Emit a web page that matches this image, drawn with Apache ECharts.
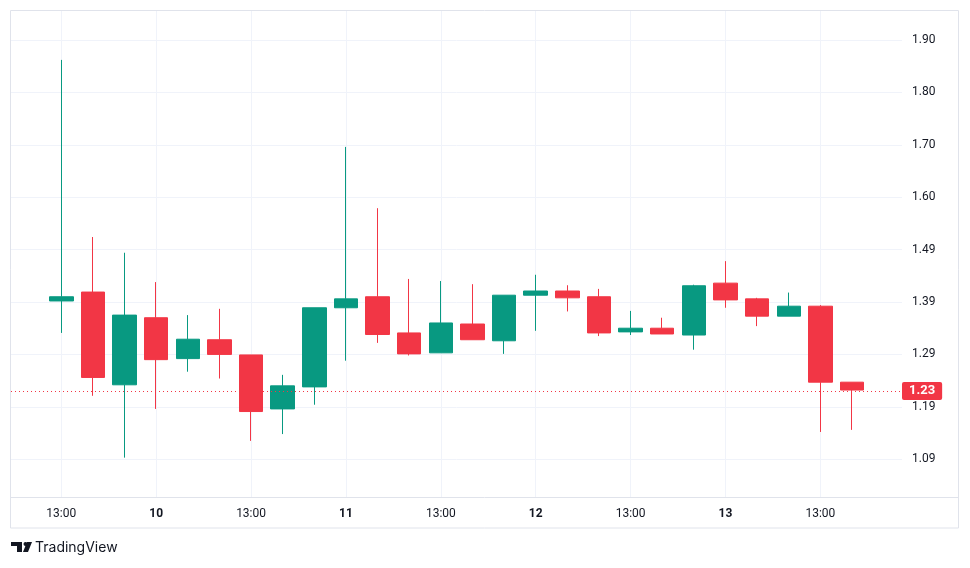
<!DOCTYPE html>
<html>
<head>
<meta charset="utf-8">
<title>Candles</title>
<script src="https://cdn.jsdelivr.net/npm/echarts@6/dist/echarts.min.js"></script>
<style>
  html, body { margin: 0; padding: 0; background: #ffffff; }
  #main { width: 970px; height: 568px; }
</style>
</head>
<body>
<div id="main"></div>
<script>
// candle values, one entry per bar
var opens  = [1.402, 1.419, 1.242, 1.370, 1.292, 1.328, 1.299, 1.196, 1.238, 1.389, 1.410, 1.341, 1.303,
              1.358, 1.326, 1.413, 1.421, 1.410, 1.343, 1.350, 1.337, 1.436, 1.406, 1.373, 1.392, 1.247];
var closes = [1.410, 1.256, 1.375, 1.290, 1.329, 1.300, 1.191, 1.240, 1.389, 1.406, 1.338, 1.301, 1.360,
              1.328, 1.413, 1.421, 1.408, 1.341, 1.350, 1.339, 1.431, 1.404, 1.373, 1.392, 1.247, 1.232];
var lows   = [1.341, 1.221, 1.103, 1.196, 1.267, 1.254, 1.135, 1.148, 1.204, 1.288, 1.322, 1.298, 1.303,
              1.328, 1.301, 1.345, 1.382, 1.335, 1.337, 1.339, 1.309, 1.389, 1.354, 1.373, 1.152, 1.156];
var highs  = [1.862, 1.524, 1.494, 1.438, 1.375, 1.387, 1.299, 1.261, 1.389, 1.696, 1.579, 1.444, 1.440,
              1.434, 1.413, 1.452, 1.432, 1.425, 1.383, 1.370, 1.433, 1.478, 1.408, 1.418, 1.394, 1.247];

// x tick labels, every 3rd candle (days are bold)
var xTickLabels = ['13:00', '10', '13:00', '11', '13:00', '12', '13:00', '13', '13:00'];
var xTickStep = 3;
// y tick labels for 1.1 .. 1.9
var yTickLabels = ['1.09', '1.19', '1.29', '1.39', '1.49', '1.60', '1.70', '1.80', '1.90'];

var UP = '#089981';
var DOWN = '#F23645';
var TEXT = '#131722';

var rows = [];
for (var i = 0; i < opens.length; i++) {
    rows.push([i, opens[i], closes[i], lows[i], highs[i]]);
}
var lastClose = closes[closes.length - 1];

var myChart = echarts.init(document.getElementById('main'));

var option = {
    animation: false,
    backgroundColor: '#ffffff',
    textStyle: { fontFamily: 'Roboto, "Noto Sans", sans-serif' },
    grid: { left: 11, top: 11, right: 68, bottom: 70, containLabel: false },
    xAxis: {
        type: 'value',
        min: -1.59,
        max: 26.58,
        splitNumber: 9,
        axisLine: { show: false },
        axisTick: { show: false },
        axisLabel: {
            showMinLabel: false,
            showMaxLabel: false,
            margin: 10,
            color: TEXT,
            fontSize: 12,
            formatter: function (v) {
                var k = v / xTickStep;
                if (Math.abs(k - Math.round(k)) > 1e-6) return '';
                var s = xTickLabels[Math.round(k)];
                if (s == null) return '';
                return s.indexOf(':') < 0 ? '{b|' + s + '}' : s;
            },
            rich: { b: { fontWeight: 'bold', fontSize: 12, color: TEXT } }
        },
        splitLine: { show: true, showMinLine: false, showMaxLine: false, lineStyle: { color: '#f0f3fa', width: 1 } }
    },
    yAxis: {
        type: 'value',
        position: 'right',
        min: 1.026,
        max: 1.9553,
        splitNumber: 9,
        axisLine: { show: false },
        axisTick: { show: false },
        axisLabel: {
            showMinLabel: false,
            showMaxLabel: false,
            margin: 10,
            color: TEXT,
            fontSize: 12,
            formatter: function (v) {
                var k = Math.round((v - 1.1) * 10);
                if (Math.abs(v - (1.1 + k * 0.1)) > 1e-6) return '';
                return yTickLabels[k] || '';
            }
        },
        splitLine: { show: true, showMinLine: false, showMaxLine: false, lineStyle: { color: '#f0f3fa', width: 1 } }
    },
    series: [{
        type: 'candlestick',
        data: rows,
        encode: { x: 0, y: [1, 2, 3, 4] },
        barWidth: 24,
        itemStyle: {
            color: UP,
            color0: DOWN,
            borderColor: UP,
            borderColor0: DOWN,
            borderWidth: 1
        },
        markLine: {
            silent: true,
            symbol: ['none', 'none'],
            data: [{ yAxis: lastClose }],
            lineStyle: { color: DOWN, type: [1, 3], width: 1 },
            label: {
                show: true,
                position: 'end',
                distance: 0,
                formatter: function (p) { return p.value.toFixed(2); },
                backgroundColor: DOWN,
                color: '#ffffff',
                fontWeight: 'bold',
                fontSize: 13,
                lineHeight: 13,
                padding: [3, 7, 2, 7],
                borderRadius: 2
            }
        }
    }],
    graphic: [
        // outer frame and axis separator
        { type: 'rect', silent: true, z: 1, shape: { x: 10.5, y: 10.5, width: 948, height: 517.5 },
          style: { fill: 'none', stroke: '#e0e3eb', lineWidth: 1 } },
        { type: 'line', silent: true, z: 1, shape: { x1: 10.5, y1: 497.5, x2: 958.5, y2: 497.5 },
          style: { stroke: '#e0e3eb', lineWidth: 1 } },
        // TradingView mark
        { type: 'group', left: 11, top: 542, children: [
            { type: 'rect', shape: { x: 0, y: 0, width: 11, height: 4 }, style: { fill: TEXT } },
            { type: 'rect', shape: { x: 6, y: 0, width: 5, height: 10 }, style: { fill: TEXT } },
            { type: 'circle', shape: { cx: 14.5, cy: 2, r: 2 }, style: { fill: TEXT } },
            { type: 'polygon', shape: { points: [[16, 0], [21, 0], [17, 10], [12, 10]] }, style: { fill: TEXT } }
        ] },
        { type: 'text', left: 35, top: 541, style: { text: 'TradingView', fill: TEXT, fontSize: 14,
          fontFamily: 'Inter, Roboto, sans-serif' } }
    ]
};

myChart.setOption(option);
</script>
</body>
</html>
